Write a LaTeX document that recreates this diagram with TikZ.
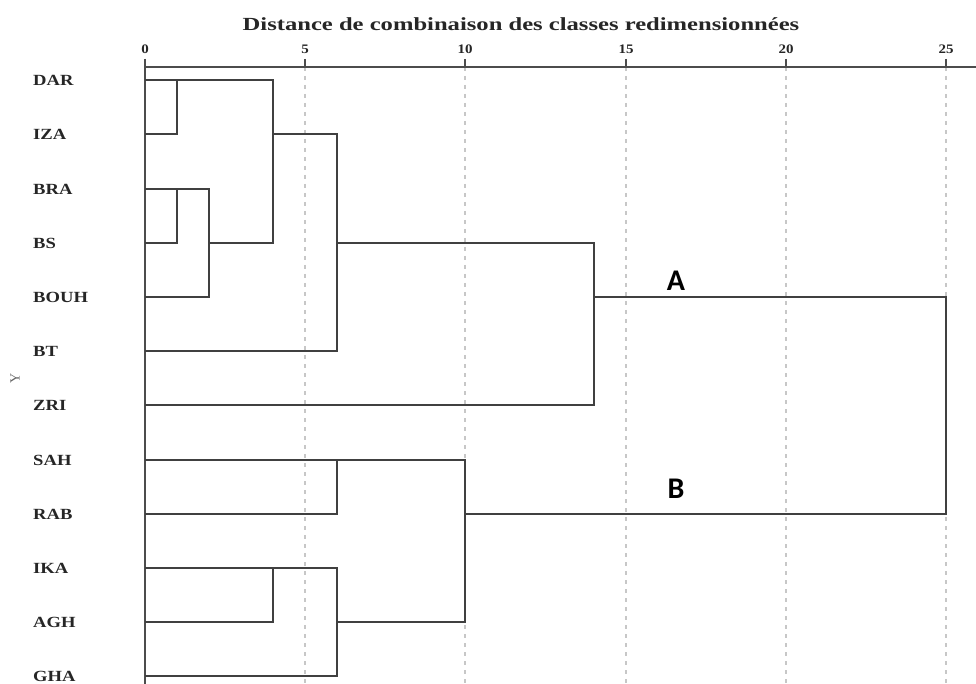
\documentclass[tikz,border=0pt]{standalone}
\usepackage{fontspec}
\setmainfont{Liberation Serif}
\newfontfamily\calib{Carlito}
\begin{document}
\begin{tikzpicture}[x=1pt,y=-1pt,
  dend/.style={draw=black!75,line width=2pt,line join=miter},
  axisline/.style={draw=black!70,line width=2pt},
  gridl/.style={draw=black!22,line width=1.2pt,dash pattern=on 4pt off 5pt},
  leaflab/.style={font=\fontsize{15.5}{15.5}\selectfont\bfseries,anchor=west,inner sep=0pt,text=black!85,xscale=1.2},
  ticklab/.style={font=\fontsize{13}{13}\selectfont\bfseries,inner sep=0pt,text=black!85,xscale=1.15},
  grp/.style={font=\calib\bfseries\fontsize{30}{30}\selectfont,inner sep=0pt}]
\useasboundingbox (0,0) rectangle (976,684);
\fill[white] (0,0) rectangle (976,684);
\def\u{32.04}
% gridlines
\foreach \d in {5,10,15,20,25} \draw[gridl] ({round(145+\u*\d)},67) -- ({round(145+\u*\d)},684);
% axes
\draw[axisline] (145,67) -- (976,67);
\draw[axisline] (145,59) -- (145,684);
\foreach \d in {0,5,10,15,20,25} {
  \draw[axisline] ({round(145+\u*\d)},59) -- ({round(145+\u*\d)},67);
  \node[ticklab] (t\d) at ({round(145+\u*\d)},49) {\d};
}
\node[font=\fontsize{18.5}{18.5}\selectfont\bfseries,text=black!85,xscale=1.33] (title) at (521,24) {Distance de combinaison des classes redimensionnées};
\node[rotate=90,font=\fontsize{14}{14}\selectfont,text=black!60] (ylab) at (15,378) {Y};
% leaves
\foreach \n/\lab/\yy in {a/DAR/80,b/IZA/134,c/BRA/189,d/BS/243,e/BOUH/297,f/BT/351,g/ZRI/405,h/SAH/460,k/RAB/514,l/IKA/568,m/AGH/622,n/GHA/676} {
  \node[leaflab] (lab\n) at (33,\yy) {\lab};
  \coordinate (\n) at (145,\yy);
}
% helper x positions
\def\xa{177}\def\xb{209}\def\xd{273}\def\xf{337}\def\xt{465}\def\xq{594}\def\xz{946}
% cluster A
\draw[dend] (a) -- (a -| \xd,0) -- (d -| \xd,0) -- (d -| \xb,0);
\draw[dend] (a -| \xa,0) -- (b -| \xa,0) -- (b);
\draw[dend] (c) -- (c -| \xb,0) -- (e -| \xb,0) -- (e);
\draw[dend] (c -| \xa,0) -- (d -| \xa,0) -- (d);
\draw[dend] (b -| \xd,0) -- (b -| \xf,0) -- (f -| \xf,0) -- (f);
\draw[dend] (d -| \xf,0) -- (d -| \xq,0) -- (g -| \xq,0) -- (g);
% top link
\draw[dend] (e -| \xq,0) -- (e -| \xz,0) -- (k -| \xz,0) -- (k -| \xt,0);
% cluster B
\draw[dend] (h) -- (h -| \xt,0) -- (m -| \xt,0) -- (m -| \xf,0);
\draw[dend] (h -| \xf,0) -- (k -| \xf,0) -- (k);
\draw[dend] (l) -- (l -| \xf,0) -- (n -| \xf,0) -- (n);
\draw[dend] (l -| \xd,0) -- (m -| \xd,0) -- (m);
% group labels
\node[grp] (A) at (676,281) {A};
\node[grp] (B) at (676,489) {B};
\end{tikzpicture}
\end{document}
